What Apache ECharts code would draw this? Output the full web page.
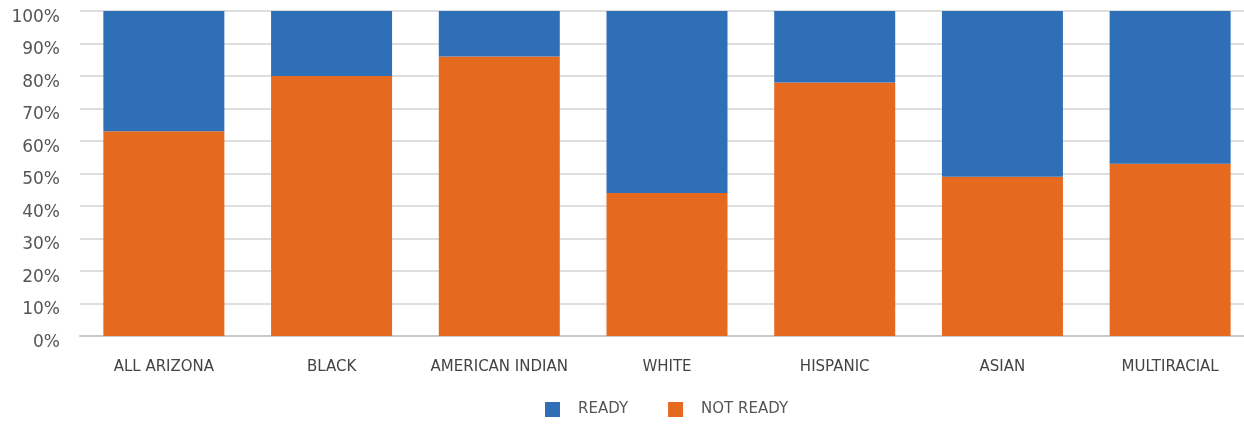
<!DOCTYPE html>
<html>
<head>
<meta charset="utf-8">
<script src="https://cdn.jsdelivr.net/npm/echarts@6/dist/echarts.min.js"></script>
<style>
  html, body { margin: 0; padding: 0; background: #fff; }
  #chart { width: 1244px; height: 424px; }
</style>
</head>
<body>
<div id="chart"></div>
<script>
const categories = ["ALL ARIZONA", "BLACK", "AMERICAN INDIAN", "WHITE", "HISPANIC", "ASIAN", "MULTIRACIAL"];
const notReady = [63, 80, 86, 44, 78, 49, 53];
const ready = [37, 20, 14, 56, 22, 51, 47];
const yTicks = [0, 10, 20, 30, 40, 50, 60, 70, 80, 90, 100];

const chart = echarts.init(document.getElementById("chart"));
chart.setOption({
  animation: false,
  textStyle: { fontFamily: "DejaVu Sans" },
  grid: { left: 80, top: 11, width: 1174, height: 325, containLabel: false, outerBoundsMode: "none" },
  legend: {
    data: ["READY", "NOT READY"],
    bottom: 2,
    left: 540,
    icon: "rect",
    itemWidth: 15,
    itemHeight: 15,
    itemGap: 40,
    textStyle: { fontSize: 15, color: "#555", padding: [3, 0, 0, 13] }
  },
  xAxis: {
    type: "category",
    data: categories,
    axisTick: { show: false },
    axisLine: { lineStyle: { color: "#c8c8c8", width: 2 } },
    axisLabel: { interval: 0, fontSize: 15, color: "#444", margin: 24 }
  },
  yAxis: {
    type: "value",
    min: yTicks[0],
    max: yTicks[yTicks.length - 1],
    interval: 10,
    axisLabel: {
      formatter: "{v|{value}%}",
      margin: 20,
      rich: { v: { fontSize: 17, color: "#555", padding: [13, 0, 0, 0] } }
    },
    splitLine: { lineStyle: { color: "#dedede", width: 2 } },
    axisLine: { show: false },
    axisTick: { show: false }
  },
  series: [
    {
      name: "NOT READY",
      type: "bar",
      stack: "total",
      data: notReady,
      barWidth: 121,
      itemStyle: { color: "#e56a1f" }
    },
    {
      name: "READY",
      type: "bar",
      stack: "total",
      data: ready,
      barWidth: 121,
      itemStyle: { color: "#2e6fb7" }
    }
  ]
});
</script>
</body>
</html>
